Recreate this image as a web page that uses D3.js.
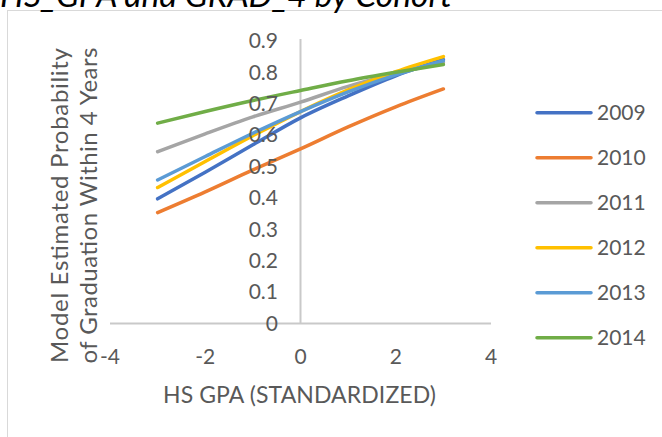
<!DOCTYPE html>
<html><head><meta charset="utf-8">
<script src="https://cdn.jsdelivr.net/npm/d3@7"></script>
<style>
html,body{margin:0;padding:0;background:#fff;}
svg{display:block;}
text{font-family:Lato,"Open Sans",sans-serif;}
</style></head><body>
<svg id="chart" width="662" height="437"></svg>
<script>
const xValues = [-3, -2, -1, 0, 1, 2, 3];
const cohorts = ["2009", "2010", "2011", "2012", "2013", "2014"];
const values2009 = [0.397, 0.482, 0.569, 0.655, 0.725, 0.789, 0.841];
const values2010 = [0.353, 0.419, 0.489, 0.556, 0.626, 0.690, 0.747];
const values2011 = [0.547, 0.604, 0.658, 0.705, 0.755, 0.796, 0.831];
const values2012 = [0.433, 0.516, 0.598, 0.675, 0.744, 0.802, 0.850];
const values2013 = [0.457, 0.532, 0.606, 0.675, 0.738, 0.792, 0.837];
const values2014 = [0.638, 0.675, 0.710, 0.742, 0.773, 0.800, 0.825];
const colors = ["#4472C4", "#ED7D31", "#A5A5A5", "#FFC000", "#5B9BD5", "#70AD47"];
const xTicks = [-4, -2, 0, 2, 4];
const yTicks = [0, 0.1, 0.2, 0.3, 0.4, 0.5, 0.6, 0.7, 0.8, 0.9];
const titleText = "HS_GPA and GRAD_4 by Cohort";
const xTitle = "HS GPA (STANDARDIZED)";
const yTitle1 = "Model Estimated Probability";
const yTitle2 = "of Graduation Within 4 Years";

const seriesValues = [values2009, values2010, values2011, values2012, values2013, values2014];
const series = cohorts.map((c, i) => ({name: c, color: colors[i],
  points: xValues.map((x, j) => ({x, y: seriesValues[i][j]}))}));

const svg = d3.select("#chart");
const x = d3.scaleLinear().domain([-4, 4]).range([110, 491]);
const y = d3.scaleLinear().domain([0, 0.9]).range([323.5, 40.9]);
const textColor = "#595959";

// chart area border
svg.append("rect").attr("x", 7.5).attr("y", 10.5).attr("width", 700).attr("height", 500)
  .attr("fill", "none").attr("stroke", "#d9d9d9").attr("stroke-width", 1);

// title (cut off at top)
svg.append("text").attr("x", 0).attr("y", 7).attr("font-size", 33)
  .attr("font-style", "italic").attr("fill", "#000")
  .attr("textLength", 452).attr("lengthAdjust", "spacingAndGlyphs").text(titleText);

// axes lines
svg.append("line").attr("x1", x(-4)).attr("x2", x(4)).attr("y1", y(0)).attr("y2", y(0))
  .attr("stroke", "#c9c9c9").attr("stroke-width", 2);
svg.append("line").attr("x1", x(0)).attr("x2", x(0)).attr("y1", y(0)).attr("y2", y(0.9) - 2)
  .attr("stroke", "#c9c9c9").attr("stroke-width", 2);

// series
const line = d3.line().x(d => x(d.x)).y(d => y(d.y)).curve(d3.curveMonotoneX);
svg.append("g").selectAll("path").data(series).join("path")
  .attr("d", d => line(d.points)).attr("fill", "none")
  .attr("stroke", d => d.color).attr("stroke-width", 3.5).attr("stroke-linecap", "round");

// y tick labels
svg.append("g").selectAll("text").data(yTicks).join("text")
  .attr("x", 278).attr("y", d => y(d)).attr("dy", "0.35em").attr("text-anchor", "end")
  .attr("font-size", 21).attr("fill", textColor).text(d => d3.format("")(d));

// x tick labels
svg.append("g").selectAll("text").data(xTicks).join("text")
  .attr("x", d => x(d)).attr("y", 357).attr("dy", "0.35em").attr("text-anchor", "middle")
  .attr("font-size", 21).attr("fill", textColor).text(d => String(d));

// axis titles
svg.append("text").attr("x", 299.5).attr("y", 395).attr("dy", "0.35em").attr("text-anchor", "middle")
  .attr("font-size", 23).attr("fill", textColor)
  .attr("textLength", 273).attr("lengthAdjust", "spacing").text(xTitle);
svg.append("text").attr("transform", "translate(60,205.5) rotate(-90)").attr("dy", "0.35em")
  .attr("text-anchor", "middle").attr("font-size", 24).attr("fill", textColor)
  .attr("textLength", 315).attr("lengthAdjust", "spacing").text(yTitle1);
svg.append("text").attr("transform", "translate(89,205.5) rotate(-90)").attr("dy", "0.35em")
  .attr("text-anchor", "middle").attr("font-size", 24).attr("fill", textColor)
  .attr("textLength", 316).attr("lengthAdjust", "spacing").text(yTitle2);

// legend
const lg = svg.append("g").selectAll("g").data(series).join("g")
  .attr("transform", (d, i) => `translate(537,${112.7 + i * 45})`);
lg.append("line").attr("x1", 0).attr("x2", 54).attr("stroke", d => d.color)
  .attr("stroke-width", 3.5).attr("stroke-linecap", "round");
lg.append("text").attr("x", 60).attr("dy", "0.35em").attr("font-size", 21)
  .attr("fill", textColor).text(d => d.name);
</script></body></html>
